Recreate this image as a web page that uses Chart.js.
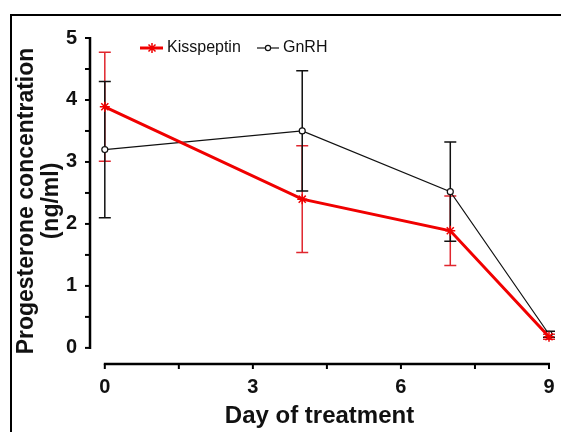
<!DOCTYPE html>
<html>
<head>
<meta charset="utf-8">
<script src="https://cdn.jsdelivr.net/npm/chart.js@4.4.0/dist/chart.umd.min.js"></script>
<style>
  html, body { margin: 0; padding: 0; background: #fff; }
  #chart { display: block; }
</style>
</head>
<body>
<canvas id="chart" width="561" height="432"></canvas>
<script>
const days = [0, 4, 7, 9];
const kissMean = [3.89, 2.40, 1.89, 0.18];
const kissErr = [0.88, 0.86, 0.56, 0.04];
const gnrhMean = [3.20, 3.50, 2.52, 0.22];
const gnrhErr = [1.10, 0.97, 0.80, 0.05];
const xTicks = [0, 3, 6, 9];
const yTicks = [0, 1, 2, 3, 4, 5];

const FONT = "Arial, 'Liberation Sans', sans-serif";
const RED = "#f00000";

// error bars + hand drawn axes, frame and legend
const extras = {
  id: "extras",
  beforeDatasetsDraw(chart) {
    const { ctx, scales: { x, y } } = chart;
    const bars = [
      { mean: kissMean, err: kissErr, color: "#e0262e" },
      { mean: gnrhMean, err: gnrhErr, color: "#111" }
    ];
    ctx.save();
    bars.forEach(b => {
      ctx.strokeStyle = b.color;
      ctx.lineWidth = 1.5;
      days.forEach((d, i) => {
        const px = x.getPixelForValue(d);
        const top = y.getPixelForValue(b.mean[i] + b.err[i]);
        const bot = y.getPixelForValue(b.mean[i] - b.err[i]);
        ctx.beginPath();
        ctx.moveTo(px, top); ctx.lineTo(px, bot);
        ctx.moveTo(px - 6, top); ctx.lineTo(px + 6, top);
        ctx.moveTo(px - 6, bot); ctx.lineTo(px + 6, bot);
        ctx.stroke();
      });
    });
    ctx.restore();
  },
  afterDraw(chart) {
    const { ctx, chartArea, scales: { x, y } } = chart;
    ctx.save();
    ctx.strokeStyle = "#000";
    ctx.lineWidth = 2.5;
    // y axis
    const ax = chartArea.left;
    ctx.beginPath();
    ctx.moveTo(ax, y.getPixelForValue(5) - 1);
    ctx.lineTo(ax, y.getPixelForValue(0) + 1);
    ctx.stroke();
    ctx.lineWidth = 2;
    for (let v = 0; v <= 5; v += 0.5) {
      const py = y.getPixelForValue(v);
      ctx.beginPath(); ctx.moveTo(ax - 5, py); ctx.lineTo(ax, py); ctx.stroke();
    }
    // x axis
    const ay = chartArea.bottom;
    ctx.lineWidth = 2.5;
    ctx.beginPath();
    ctx.moveTo(x.getPixelForValue(0) - 1, ay);
    ctx.lineTo(x.getPixelForValue(9) + 1, ay);
    ctx.stroke();
    ctx.lineWidth = 2;
    for (let v = 0; v <= 9; v += 1.5) {
      const px = x.getPixelForValue(v);
      ctx.beginPath(); ctx.moveTo(px, ay); ctx.lineTo(px, ay + 5); ctx.stroke();
    }
    // frame
    ctx.lineWidth = 2;
    ctx.beginPath();
    ctx.moveTo(11, 432); ctx.lineTo(11, 15); ctx.lineTo(561, 15);
    ctx.stroke();
    // legend
    const ly = 48;
    ctx.strokeStyle = RED;
    ctx.lineWidth = 3;
    ctx.beginPath(); ctx.moveTo(140, ly); ctx.lineTo(163, ly); ctx.stroke();
    ctx.lineWidth = 1.5;
    ctx.beginPath();
    ctx.moveTo(152 - 5, ly); ctx.lineTo(152 + 5, ly);
    ctx.moveTo(152, ly - 5); ctx.lineTo(152, ly + 5);
    ctx.moveTo(152 - 3.5, ly - 3.5); ctx.lineTo(152 + 3.5, ly + 3.5);
    ctx.moveTo(152 - 3.5, ly + 3.5); ctx.lineTo(152 + 3.5, ly - 3.5);
    ctx.stroke();
    ctx.strokeStyle = "#111";
    ctx.lineWidth = 1.2;
    ctx.beginPath(); ctx.moveTo(257, ly); ctx.lineTo(279, ly); ctx.stroke();
    ctx.fillStyle = "#fff";
    ctx.beginPath(); ctx.arc(268, ly, 2.6, 0, Math.PI * 2); ctx.fill(); ctx.stroke();
    ctx.fillStyle = "#111";
    ctx.font = "16px " + FONT;
    ctx.textBaseline = "middle";
    ctx.fillText("Kisspeptin", 167, ly);
    ctx.fillText("GnRH", 283, ly);
    ctx.restore();
  }
};

new Chart(document.getElementById("chart"), {
  type: "line",
  data: {
    datasets: [
      {
        label: "Kisspeptin",
        data: days.map((d, i) => ({ x: d, y: kissMean[i] })),
        borderColor: RED,
        backgroundColor: RED,
        borderWidth: 3,
        pointStyle: "star",
        pointRadius: 5,
        pointBorderWidth: 1.5,
        tension: 0
      },
      {
        label: "GnRH",
        data: days.map((d, i) => ({ x: d, y: gnrhMean[i] })),
        borderColor: "#111",
        backgroundColor: "#fff",
        borderWidth: 1.2,
        pointStyle: "circle",
        pointRadius: 3,
        pointBorderWidth: 1.2,
        tension: 0
      }
    ]
  },
  options: {
    responsive: false,
    animation: false,
    clip: false,
    layout: { padding: { top: 38, right: 12, left: 0, bottom: 0 } },
    plugins: { legend: { display: false }, tooltip: { enabled: false } },
    scales: {
      x: {
        type: "linear",
        min: -0.3,
        max: 9,
        afterBuildTicks: s => { s.ticks = xTicks.map(v => ({ value: v })); },
        afterFit: s => { s.height = 68; },
        grid: { display: false },
        border: { display: false },
        ticks: { color: "#111", padding: 3, font: { family: FONT, size: 20, weight: "bold" } },
        title: {
          display: true,
          text: "Day of treatment",
          color: "#111",
          padding: { top: 0, bottom: 1 },
          font: { family: FONT, size: 24, weight: "bold" }
        }
      },
      y: {
        min: -0.26,
        max: 5,
        afterBuildTicks: s => { s.ticks = yTicks.map(v => ({ value: v })); },
        afterFit: s => { s.width = 90; },
        grid: { display: false },
        border: { display: false },
        ticks: { color: "#111", padding: 5, font: { family: FONT, size: 20, weight: "bold" } },
        title: {
          display: true,
          text: ["Progesterone concentration", "(ng/ml)"],
          color: "#111",
          padding: { top: 14, bottom: 0 },
          font: { family: FONT, size: 23, weight: "bold", lineHeight: 1.1 }
        }
      }
    }
  },
  plugins: [extras]
});
</script>
</body>
</html>
